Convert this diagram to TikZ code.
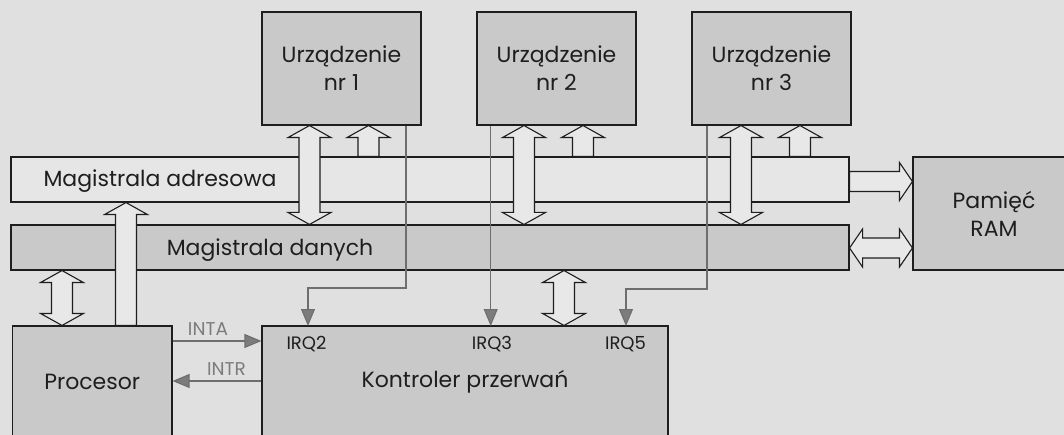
\documentclass[tikz,border=0pt]{standalone}
\usepackage{fontspec}
\setmainfont{Poppins}
\usetikzlibrary{calc,arrows.meta}
\definecolor{bg}{HTML}{E0E0E0}
\definecolor{boxfill}{HTML}{C9C9C9}
\definecolor{busfill}{HTML}{E6E6E6}
\definecolor{arrfill}{HTML}{E8E8E8}
\definecolor{ink}{HTML}{1E1E1E}
\definecolor{wirec}{HTML}{6E6E6E}
\definecolor{tipc}{HTML}{7C7C7C}
\tikzset{
  unit/.style={draw=ink, line width=1.1pt, fill=boxfill, text=ink, inner sep=0pt, align=center, font=\fontsize{22}{28}\selectfont},
  bus/.style={draw=ink, line width=1.1pt, inner sep=0pt},
  bustext/.style={text=ink, inner sep=0pt, font=\fontsize{22}{26}\selectfont},
  blk/.style={draw=ink, line width=1.1pt, fill=arrfill, line join=miter},
  wire/.style={draw=wirec, line width=1.1pt, -{Triangle[width=14pt,length=17pt,fill=tipc]}},
  irqtext/.style={text=ink, inner sep=0pt, font=\fontsize{18}{22}\selectfont},
  sigtext/.style={text=tipc, inner sep=0pt, font=\fontsize{18.5}{22}\selectfont},
}
% vertical double block arrow between two points (top, bottom)
\newcommand\vDbl[2]{\draw[blk] let \p1=#1, \p2=#2 in
  (\x1,\y1) -- (\x1+21.5pt,\y1-12pt) -- (\x1+10.5pt,\y1-12pt) -- (\x1+10.5pt,\y2+12pt)
  -- (\x1+21.5pt,\y2+12pt) -- (\x1,\y2) -- (\x1-21.5pt,\y2+12pt) -- (\x1-10.5pt,\y2+12pt)
  -- (\x1-10.5pt,\y1-12pt) -- (\x1-21.5pt,\y1-12pt) -- cycle;}
% vertical single block arrow, tip at top (#1), tail at bottom (#2)
\newcommand\vSgl[2]{\draw[blk] let \p1=#1, \p2=#2 in
  (\x1,\y1) -- (\x1+21.5pt,\y1-12pt) -- (\x1+10.5pt,\y1-12pt) -- (\x1+10.5pt,\y2)
  -- (\x1-10.5pt,\y2) -- (\x1-10.5pt,\y1-12pt) -- (\x1-21.5pt,\y1-12pt) -- cycle;}
% horizontal single block arrow, tail #1 (left), tip #2 (right)
\newcommand\hSgl[2]{\draw[blk] let \p1=#1, \p2=#2 in
  (\x1,\y1+10pt) -- (\x2-13pt,\y1+10pt) -- (\x2-13pt,\y1+19pt) -- (\x2,\y1)
  -- (\x2-13pt,\y1-19pt) -- (\x2-13pt,\y1-10pt) -- (\x1,\y1-10pt) -- cycle;}
% horizontal double block arrow
\newcommand\hDbl[2]{\draw[blk] let \p1=#1, \p2=#2 in
  (\x1,\y1) -- (\x1+13pt,\y1+19pt) -- (\x1+13pt,\y1+10pt) -- (\x2-13pt,\y1+10pt) -- (\x2-13pt,\y1+19pt) -- (\x2,\y1)
  -- (\x2-13pt,\y1-19pt) -- (\x2-13pt,\y1-10pt) -- (\x1+13pt,\y1-10pt) -- (\x1+13pt,\y1-19pt) -- cycle;}
\begin{document}
\begin{tikzpicture}[x=1pt,y=-1pt]
\fill[bg] (0,0) rectangle (1064,435);
\useasboundingbox (0,0) rectangle (1064,435);

% devices
\node[unit, minimum width=159pt, minimum height=113pt] (d1) at (341.5,68.5) {Urządzenie\\nr 1};
\node[unit, minimum width=159pt, minimum height=113pt] (d2) at (556.5,68.5) {Urządzenie\\nr 2};
\node[unit, minimum width=159pt, minimum height=113pt] (d3) at (771.5,68.5) {Urządzenie\\nr 3};
% buses
\node[bus, fill=busfill, minimum width=838pt, minimum height=45pt] (addr) at (430,179.5) {};
\node[bus, fill=boxfill, minimum width=838pt, minimum height=45pt] (data) at (430,247.5) {};
\node[bustext] (addrt) at (160,181) {Magistrala adresowa};
\node[bustext] (datat) at (270,250) {Magistrala danych};
% RAM
\node[unit, minimum width=162pt, minimum height=113pt] (ram) at (994,213.5) {Pamięć\\RAM};
% processor & controller
\node[unit, minimum width=159.5pt, minimum height=111pt] (proc) at (92.25,381.5) {Procesor};
\node[unit, minimum width=406pt, minimum height=111pt] (kont) at (465,381.5) {Kontroler przerwań};

% IRQ labels
\node[irqtext] (l2) at (306.5,344) {IRQ2};
\node[irqtext] (l3) at (492,344) {IRQ3};
\node[irqtext] (l5) at (625.5,344) {IRQ5};

% coordinates
\coordinate (c1) at (309.5,0);  \coordinate (s1) at (368.5,0);
\coordinate (c2) at (524,0);    \coordinate (s2) at (583,0);
\coordinate (c3) at (741,0);    \coordinate (s3) at (800,0);
\coordinate (cp) at (62,0);     \coordinate (sp) at (126,0);
\coordinate (ck) at (564,0);
\coordinate (ha) at (0,181.5);  \coordinate (hd) at (0,248);
\coordinate (w1) at (406,288);  \coordinate (irq2) at (308,326);
\coordinate (irq3) at (490.7,326);
\coordinate (w3) at (707,289);  \coordinate (irq5) at (626,326);
\coordinate (inta) at (0,341);  \coordinate (intr) at (0,381);

% block arrows
\vDbl{(d1.south -| c1)}{(data.north -| c1)}
\vSgl{(d1.south -| s1)}{(addr.north -| s1)}
\vDbl{(d2.south -| c2)}{(data.north -| c2)}
\vSgl{(d2.south -| s2)}{(addr.north -| s2)}
\vDbl{(d3.south -| c3)}{(data.north -| c3)}
\vSgl{(d3.south -| s3)}{(addr.north -| s3)}
\vDbl{(data.south -| cp)}{(proc.north -| cp)}
\vSgl{(addr.south -| sp)}{(proc.north -| sp)}
\vDbl{(data.south -| ck)}{(kont.north -| ck)}
\hSgl{(addr.east |- ha)}{(ram.west |- ha)}
\hDbl{(data.east |- hd)}{(ram.west |- hd)}

% interrupt wires
\draw[wire] (d1.south -| w1) -- (w1) -| (irq2);
\draw[wire] (d2.south -| irq3) -- (irq3);
\draw[wire] (d3.south -| w3) -- (w3) -| (irq5);
\draw[wire] (proc.east |- inta) -- (kont.west |- inta);
\draw[wire] (kont.west |- intr) -- (proc.east |- intr);
\node[sigtext] (ta) at (208,329) {INTA};
\node[sigtext] (tr) at (226.5,369) {INTR};
\end{tikzpicture}
\end{document}
